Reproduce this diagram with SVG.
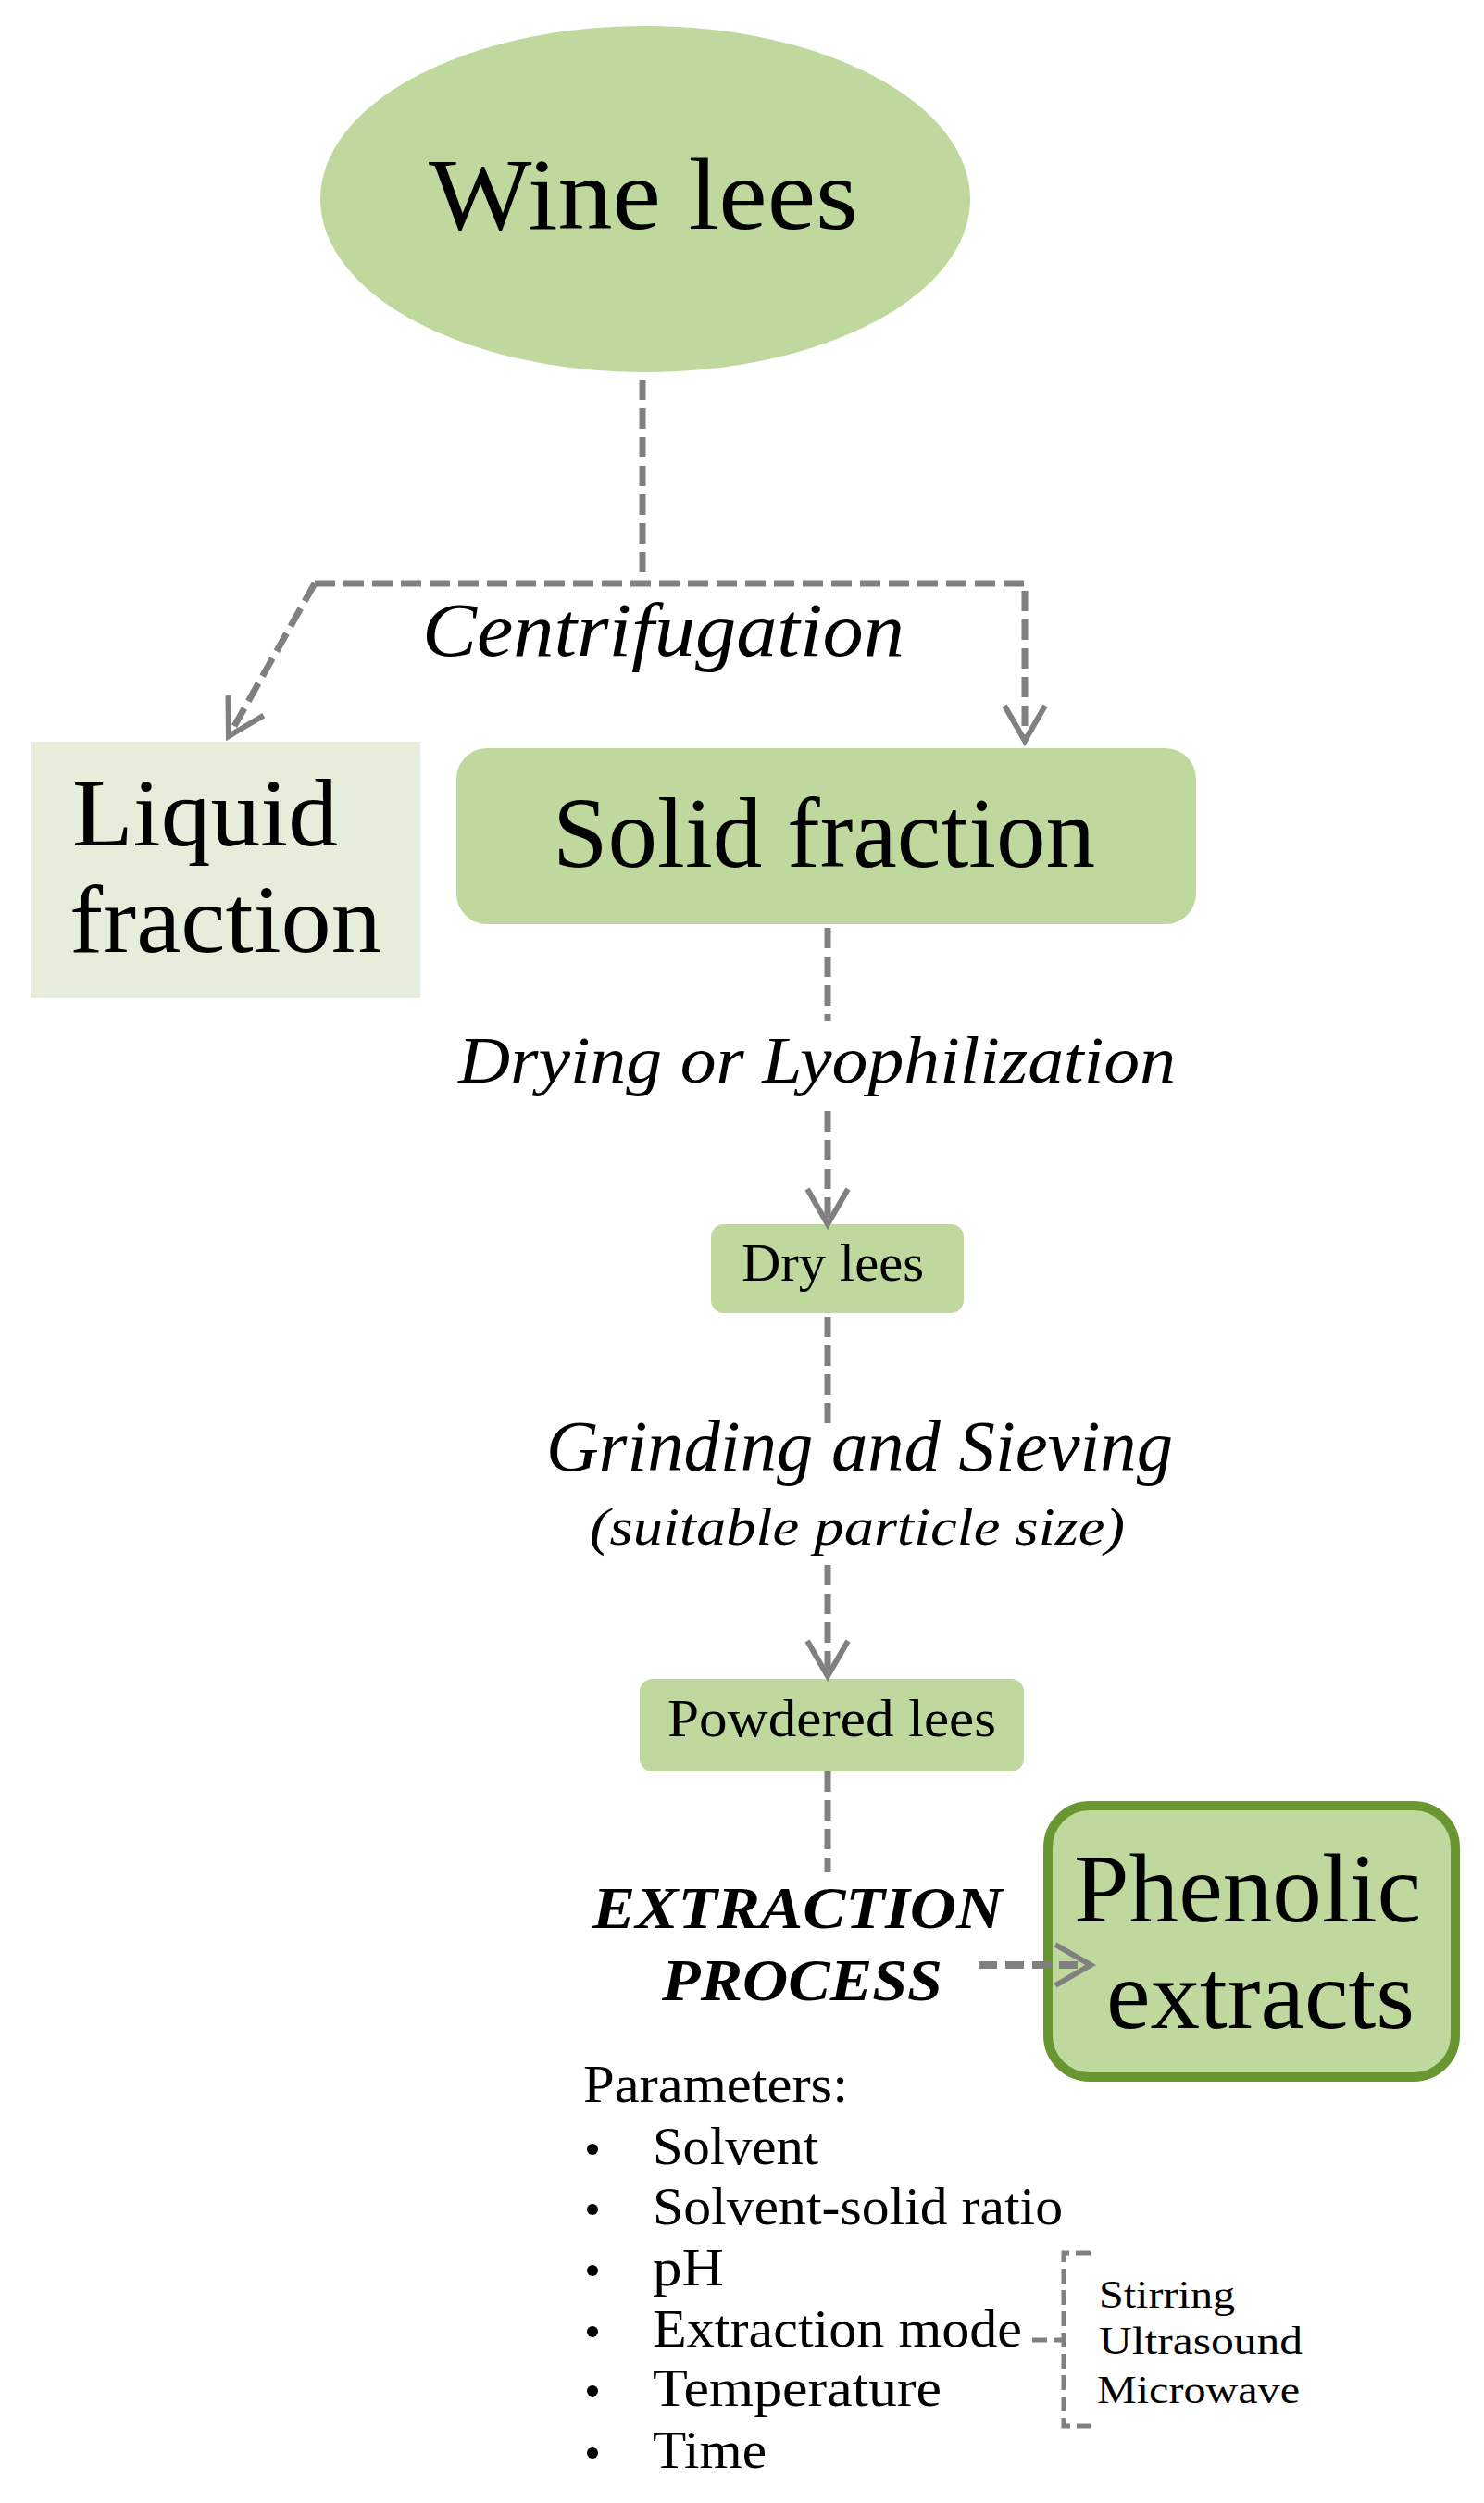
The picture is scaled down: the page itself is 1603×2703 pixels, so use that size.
<svg xmlns="http://www.w3.org/2000/svg" width="1603" height="2703" viewBox="0 0 1603 2703">
<style>
  .t { font-family: "Liberation Serif", "Times New Roman", serif; fill: #000; }
  .it { font-style: italic; }
  .fill { fill: #BFD89D; }
  .dash { fill: none; stroke: #808080; stroke-width: 7; stroke-dasharray: 22 9; }
  .dash-thick { fill: none; stroke: #808080; stroke-width: 8; stroke-dasharray: 20 9; }
  .bracket { fill: none; stroke: #808080; stroke-width: 5; stroke-dasharray: 16 7; }
</style>
<defs>
  <marker id="chev" markerUnits="userSpaceOnUse" viewBox="-50 -30 60 60" markerWidth="60" markerHeight="60" refX="0" refY="0" orient="auto">
    <path d="M-38,-22 L0,0 L-38,22" fill="none" stroke="#808080" stroke-width="6" stroke-linejoin="miter"/>
  </marker>
</defs>
<rect width="1603" height="2703" fill="#FFFFFF"/>

<g id="wine-lees">
  <ellipse cx="697" cy="215" rx="351" ry="187" class="fill"/>
  <text class="t" x="463" y="247" font-size="110" textLength="464" lengthAdjust="spacingAndGlyphs">Wine lees</text>
</g>

<g id="liquid-fraction">
  <rect x="33" y="801" width="421" height="277" fill="#E6EEDB"/>
  <text class="t" x="78" y="913" font-size="104" textLength="287" lengthAdjust="spacingAndGlyphs">Liquid</text>
  <text class="t" x="75" y="1028" font-size="104" textLength="337" lengthAdjust="spacingAndGlyphs">fraction</text>
</g>

<g id="solid-fraction">
  <rect x="493" y="808" width="799" height="190" rx="33" class="fill"/>
  <text class="t" x="597" y="936" font-size="107" textLength="586" lengthAdjust="spacingAndGlyphs">Solid fraction</text>
</g>

<g id="dry-lees">
  <rect x="768" y="1322" width="273" height="96" rx="14" class="fill"/>
  <text class="t" x="801" y="1383" font-size="56" textLength="197" lengthAdjust="spacingAndGlyphs">Dry lees</text>
</g>

<g id="powdered-lees">
  <rect x="691" y="1813" width="415" height="100" rx="14" class="fill"/>
  <text class="t" x="721" y="1875" font-size="56" textLength="355" lengthAdjust="spacingAndGlyphs">Powdered lees</text>
</g>

<g id="phenolic-extracts">
  <rect x="1132" y="1950" width="440" height="293" rx="45" class="fill" stroke="#6A9632" stroke-width="10"/>
  <text class="t" x="1160" y="2075" font-size="106" textLength="375" lengthAdjust="spacingAndGlyphs">Phenolic</text>
  <text class="t" x="1195" y="2190" font-size="106" textLength="333" lengthAdjust="spacingAndGlyphs">extracts</text>
</g>

<g id="labels">
  <text class="t it" x="456" y="708" font-size="82" textLength="521" lengthAdjust="spacingAndGlyphs">Centrifugation</text>
  <text class="t it" x="495" y="1169" font-size="72" textLength="775" lengthAdjust="spacingAndGlyphs">Drying or Lyophilization</text>
  <text class="t it" x="590" y="1588" font-size="78" textLength="677" lengthAdjust="spacingAndGlyphs">Grinding and Sieving</text>
  <text class="t it" x="637" y="1668" font-size="58" textLength="578" lengthAdjust="spacingAndGlyphs">(suitable particle size)</text>
  <text class="t it" x="640" y="2082" font-size="64" font-weight="bold" textLength="443" lengthAdjust="spacingAndGlyphs">EXTRACTION</text>
  <text class="t it" x="715" y="2160" font-size="64" font-weight="bold" textLength="303" lengthAdjust="spacingAndGlyphs">PROCESS</text>
</g>

<g id="parameters">
  <text class="t" x="630" y="2270" font-size="56" textLength="286" lengthAdjust="spacingAndGlyphs">Parameters:</text>
  <circle cx="640" cy="2321" r="6"/>
  <text class="t" x="705" y="2337" font-size="56" textLength="179" lengthAdjust="spacingAndGlyphs">Solvent</text>
  <circle cx="640" cy="2386" r="6"/>
  <text class="t" x="705" y="2402" font-size="56" textLength="443" lengthAdjust="spacingAndGlyphs">Solvent-solid ratio</text>
  <circle cx="640" cy="2452" r="6"/>
  <text class="t" x="705" y="2468" font-size="56" textLength="77" lengthAdjust="spacingAndGlyphs">pH</text>
  <circle cx="640" cy="2518" r="6"/>
  <text class="t" x="705" y="2534" font-size="56" textLength="399" lengthAdjust="spacingAndGlyphs">Extraction mode</text>
  <circle cx="640" cy="2582" r="6"/>
  <text class="t" x="705" y="2598" font-size="56" textLength="312" lengthAdjust="spacingAndGlyphs">Temperature</text>
  <circle cx="640" cy="2649" r="6"/>
  <text class="t" x="705" y="2665" font-size="56" textLength="123" lengthAdjust="spacingAndGlyphs">Time</text>
</g>

<g id="extraction-modes">
  <text class="t" x="1187" y="2492" font-size="42" textLength="147" lengthAdjust="spacingAndGlyphs">Stirring</text>
  <text class="t" x="1187" y="2542" font-size="42" textLength="220" lengthAdjust="spacingAndGlyphs">Ultrasound</text>
  <text class="t" x="1185" y="2595" font-size="42" textLength="219" lengthAdjust="spacingAndGlyphs">Microwave</text>
</g>

<g id="connectors">
  <path class="dash" d="M694,410 V630"/>
  <path class="dash" d="M340,630 H1107 V800" marker-end="url(#chev)"/>
  <path class="dash" d="M340,630 L247,795" marker-end="url(#chev)"/>
  <path class="dash" d="M894,1002 V1103"/>
  <path class="dash" d="M894,1200 V1322" marker-end="url(#chev)"/>
  <path class="dash" d="M894,1422 V1537"/>
  <path class="dash" d="M894,1690 V1810" marker-end="url(#chev)"/>
  <path class="dash" d="M894,1913 V2022"/>
  <path class="dash-thick" d="M1057,2122 H1178" marker-end="url(#chev)"/>
  <path class="bracket" d="M1115,2527 H1149"/>
  <path class="bracket" d="M1178,2433 H1149 V2620 H1178"/>
</g>
</svg>
